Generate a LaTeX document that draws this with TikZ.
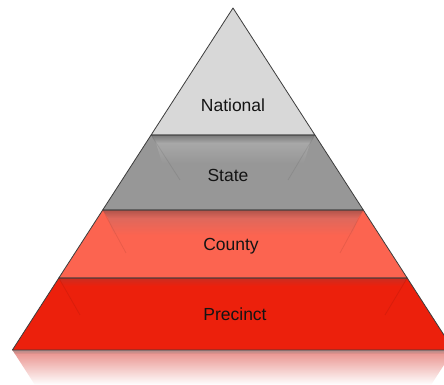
\documentclass[tikz,border=0pt]{standalone}
\usepackage{fontspec}
\setmainfont{Liberation Sans}
\usetikzlibrary{fadings}
\definecolor{natc}{RGB}{216,216,216}
\definecolor{statc}{RGB}{151,151,151}
\definecolor{statt}{RGB}{168,168,168}
\definecolor{countc}{RGB}{252,100,80}
\definecolor{countt}{RGB}{222,104,92}
\definecolor{precc}{RGB}{236,32,12}
\definecolor{prect}{RGB}{240,52,38}
\definecolor{edgec}{RGB}{60,60,60}
\definecolor{reflc}{RGB}{232,140,135}
\tikzset{
  band/.style={draw=edgec, line width=0.8pt, line join=round},
  bevel/.style={draw=black, opacity=0.08, line width=0.8pt},
  lbl/.style={font=\fontsize{17.5}{20}\selectfont, text=black!92, inner sep=0pt}
}
\begin{document}
\begin{tikzpicture}[x=1pt,y=1pt]
\useasboundingbox (0,0) rectangle (444,385);
\fill[white] (0,0) rectangle (444,385);
\clip (0,0) rectangle (444,385);
% reflection
\shade[top color=reflc, bottom color=white] (12.4,35) -- (453.6,35) -- (431,0) -- (35,0) -- cycle;
\shade[top color=black!45, bottom color=reflc, opacity=0.6] (12.4,35) -- (453.6,35) -- (451,31) -- (15,31) -- cycle;
% bands
\fill[precc] (12.4,35) -- (453.6,35) -- (407.2,107) -- (58.8,107) -- cycle;
\shade[top color=prect!85!black, bottom color=precc] (58.8,107) -- (407.2,107) -- (402,99) -- (64,99) -- cycle;
\fill[countc] (58.8,107) -- (407.2,107) -- (363.3,175) -- (102.7,175) -- cycle;
\shade[top color=countt!80!black, bottom color=countt] (102.7,175) -- (363.3,175) -- (358,167) -- (108,167) -- cycle;
\shade[top color=countt, bottom color=countc] (108,167) -- (358,167) -- (352,150) -- (114,150) -- cycle;
\fill[statc] (102.7,175) -- (363.3,175) -- (314.9,250) -- (151.1,250) -- cycle;
\shade[top color=statc!80!black, bottom color=statt] (151.1,250) -- (314.9,250) -- (310,242) -- (156,242) -- cycle;
\shade[top color=statt, bottom color=statc] (156,242) -- (310,242) -- (304,222) -- (162,222) -- cycle;
\fill[natc] (151.1,250) -- (314.9,250) -- (233,377) -- cycle;
% bevel lines
\draw[bevel] (151.1,250) -- (180,205);
\draw[bevel] (314.9,250) -- (288,205);
\draw[bevel] (102.7,175) -- (126,132);
\draw[bevel] (363.3,175) -- (340,132);
\draw[bevel] (58.8,107) -- (80,70);
\draw[bevel] (407.2,107) -- (385,70);
% outlines
\draw[band] (12.4,35) -- (453.6,35) -- (407.2,107) -- (58.8,107) -- cycle;
\draw[band] (58.8,107) -- (407.2,107) -- (363.3,175) -- (102.7,175) -- cycle;
\draw[band] (102.7,175) -- (363.3,175) -- (314.9,250) -- (151.1,250) -- cycle;
\draw[band] (151.1,250) -- (314.9,250) -- (233,377) -- cycle;
% labels
\node[lbl] (national) at (233,280) {National};
\node[lbl] (state) at (228,210) {State};
\node[lbl] (county) at (231,139) {County};
\node[lbl] (precinct) at (235,71) {Precinct};
\end{tikzpicture}
\end{document}
